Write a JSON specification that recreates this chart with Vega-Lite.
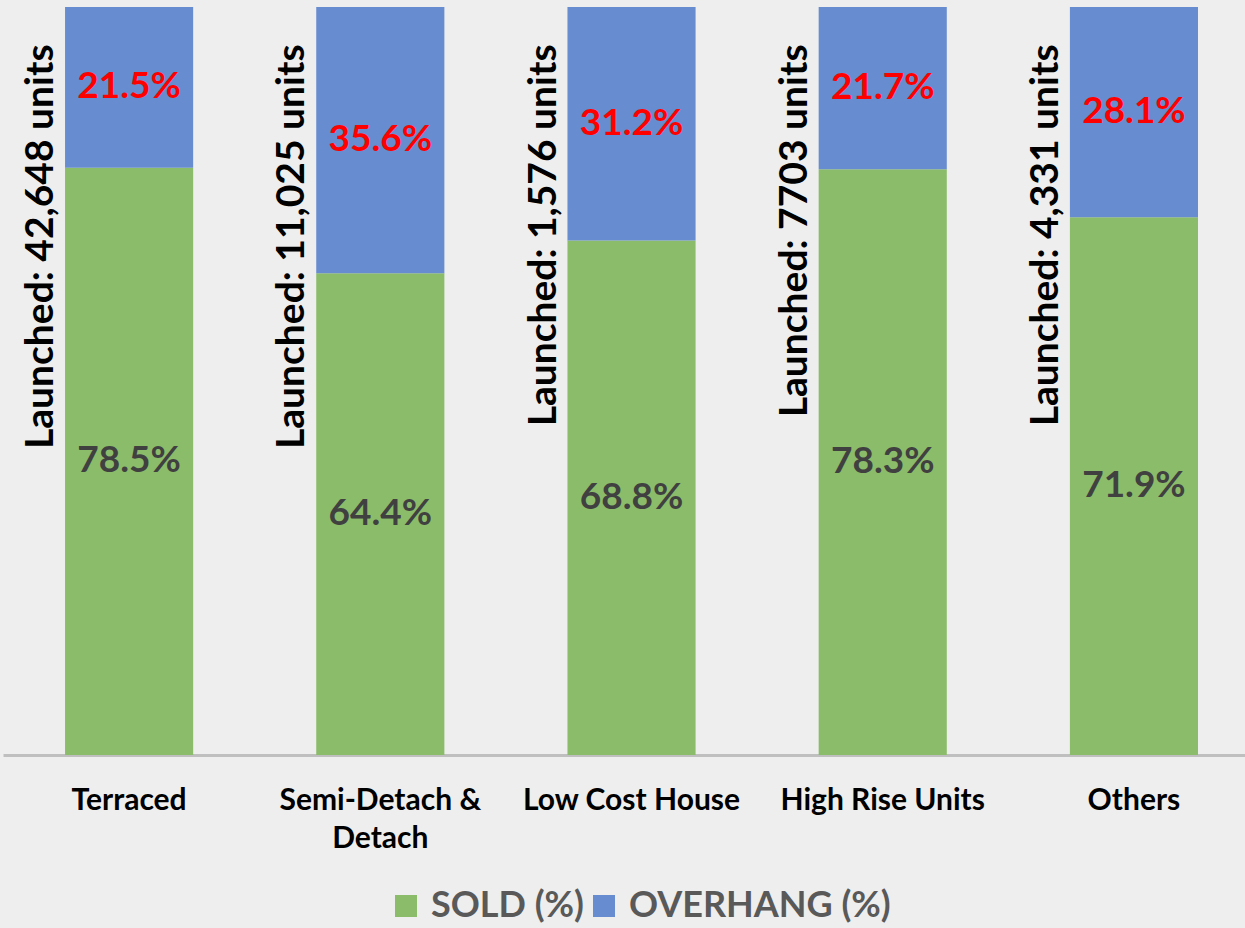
{
  "$schema": "https://vega.github.io/schema/vega-lite/v6.json",
  "autosize": "none",
  "width": 1242,
  "height": 748,
  "padding": {"left": 3, "top": 7, "right": 0, "bottom": 173},
  "background": "#eeeeee",
  "config": {"view": {"stroke": null}, "font": "Lato"},
  "datasets": {
    "shares": [
      {"category": "Terraced", "type": "SOLD (%)", "value": 78.5},
      {"category": "Terraced", "type": "OVERHANG (%)", "value": 21.5},
      {"category": "Semi-Detach & Detach", "type": "SOLD (%)", "value": 64.4},
      {"category": "Semi-Detach & Detach", "type": "OVERHANG (%)", "value": 35.6},
      {"category": "Low Cost House", "type": "SOLD (%)", "value": 68.8},
      {"category": "Low Cost House", "type": "OVERHANG (%)", "value": 31.2},
      {"category": "High Rise Units", "type": "SOLD (%)", "value": 78.3},
      {"category": "High Rise Units", "type": "OVERHANG (%)", "value": 21.7},
      {"category": "Others", "type": "SOLD (%)", "value": 71.9},
      {"category": "Others", "type": "OVERHANG (%)", "value": 28.1}
    ],
    "launched": [
      {"category": "Terraced", "label": "Launched: 42,648 units"},
      {"category": "Semi-Detach & Detach", "label": "Launched: 11,025 units"},
      {"category": "Low Cost House", "label": "Launched: 1,576 units"},
      {"category": "High Rise Units", "label": "Launched: 7703 units"},
      {"category": "Others", "label": "Launched: 4,331 units"}
    ]
  },
  "encoding": {
    "x": {
      "field": "category",
      "type": "nominal",
      "sort": null,
      "scale": {"paddingInner": 0.49, "paddingOuter": 0.217, "align": 0.569},
      "axis": {
        "title": null,
        "labelAngle": 0,
        "ticks": false,
        "grid": false,
        "domainColor": "#bfbfbf",
        "domainWidth": 3,
        "labelFont": "Lato",
        "labelFontSize": 30,
        "labelFontWeight": "bold",
        "labelColor": "#000000",
        "labelPadding": 30,
        "labelLineHeight": 38,
        "labelLimit": 0,
        "labelExpr": "datum.label == 'Semi-Detach & Detach' ? ['Semi-Detach  &', 'Detach'] : datum.label"
      }
    }
  },
  "layer": [
    {
      "data": {"name": "shares"},
      "mark": {"type": "bar"},
      "encoding": {
        "y": {"field": "value", "type": "quantitative", "stack": "zero", "scale": {"domain": [0, 100]}, "axis": null},
        "color": {
          "field": "type",
          "type": "nominal",
          "scale": {"domain": ["SOLD (%)", "OVERHANG (%)"], "range": ["#8bbc6a", "#678ccf"]},
          "legend": {
            "orient": "none",
            "legendX": 385,
            "legendY": 881,
            "direction": "horizontal",
            "title": null,
            "symbolType": "square",
            "symbolSize": 484,
            "symbolStrokeWidth": 0,
            "labelFont": "Lato",
            "labelFontSize": 36,
            "labelFontWeight": "bold",
            "labelColor": "#595959",
            "labelOffset": 7,
            "labelLimit": 0,
            "columnPadding": 2
          }
        },
        "order": {"field": "type", "sort": "descending"}
      }
    },
    {
      "data": {"name": "shares"},
      "transform": [{"calculate": "format(datum.value, '.1f') + '%'", "as": "pct"}],
      "mark": {"type": "text", "font": "Lato", "fontSize": 37, "fontWeight": "bold", "baseline": "middle", "align": "center"},
      "encoding": {
        "y": {"field": "value", "type": "quantitative", "stack": "zero", "bandPosition": 0.5},
        "detail": {"field": "type"},
        "order": {"field": "type", "sort": "descending"},
        "text": {"field": "pct"},
        "color": {"condition": {"test": "datum.type == 'OVERHANG (%)'", "value": "#ff0000"}, "value": "#404040"}
      }
    },
    {
      "data": {"name": "launched"},
      "mark": {"type": "text", "font": "Lato", "fontSize": 39, "fontWeight": "bold", "angle": 270, "align": "right", "baseline": "middle", "xOffset": -88, "color": "#000000"},
      "encoding": {
        "y": {"datum": 95, "type": "quantitative"},
        "text": {"field": "label"}
      }
    }
  ]
}
